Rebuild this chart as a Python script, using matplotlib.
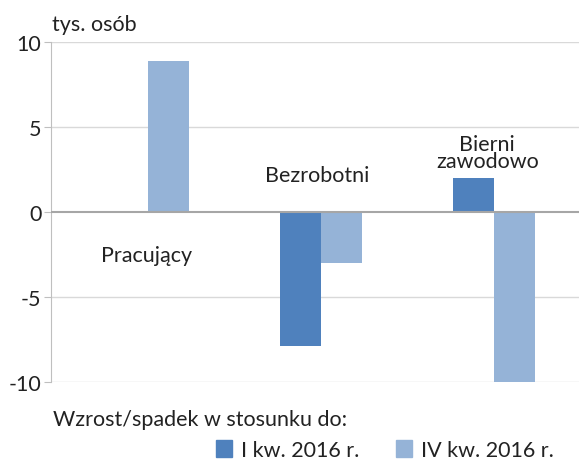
import numpy as np
import matplotlib.pyplot as plt
from matplotlib.patches import Patch

categories = ["Pracujący", "Bezrobotni", "Bierni\nzawodowo"]
series_names = ["I kw. 2016 r.", "IV kw. 2016 r."]
vals_q1 = [0.0, -7.9, 2.0]
vals_q4 = [8.9, -3.0, -10.0]
yticks = [10, 5, 0, -5, -10]

c_dark = "#4F81BD"
c_light = "#95B3D7"

plt.rcParams['font.family'] = ['Lato', 'DejaVu Sans']
fs = 15.5

fig = plt.figure(figsize=(5.79, 4.60), dpi=100)
ax = fig.add_axes([51/579, 77/460, 528/579, 340/460])

x = np.arange(len(categories))
w = 0.237
ax.bar(x - w/2, vals_q1, w, color=c_dark, zorder=3)
ax.bar(x + w/2, vals_q4, w, color=c_light, zorder=3)

ax.set_xlim(-0.56, 2.49)
ax.set_ylim(-10, 10)
ax.set_yticks(yticks)
ax.set_yticklabels([str(v) for v in yticks], fontsize=fs, color="#222222")
ax.set_xticks([])
ax.tick_params(axis='y', length=5, color="#BFBFBF", pad=2)
for v in yticks:
    if v != 0:
        ax.axhline(v, color="#D9D9D9", lw=1, zorder=1)
ax.axhline(0, color="#A6A6A6", lw=1.5, zorder=4)

for s in ["top", "right", "bottom"]:
    ax.spines[s].set_visible(False)
ax.spines["left"].set_color("#BFBFBF")

# category labels placed near the bars
label_pos = [(-0.01, -2.5), (0.98, 2.2), (1.96, 3.5)]
for name, (lx, ly) in zip(categories, label_pos):
    ax.text(lx, ly, name, ha="center", va="center", fontsize=fs,
            color="#222222", linespacing=0.85)

fig.text(52/579, 1 - 25/460, "tys. osób", fontsize=fs, color="#222222",
         ha="left", va="center")
fig.text(53/579, 1 - 420/460, "Wzrost/spadek w stosunku do:", fontsize=fs,
         color="#222222", ha="left", va="center")

handles = [Patch(color=c_dark), Patch(color=c_light)]
fig.legend(handles, series_names, loc="center", bbox_to_anchor=(385/579, 1 - 451/460),
           ncol=2, frameon=False, fontsize=fs, handlelength=0.74, handleheight=0.8,
           handletextpad=0.42, columnspacing=1.7, labelcolor="#222222",
           borderpad=0, borderaxespad=0)

fig.savefig("out.png", dpi=100)
